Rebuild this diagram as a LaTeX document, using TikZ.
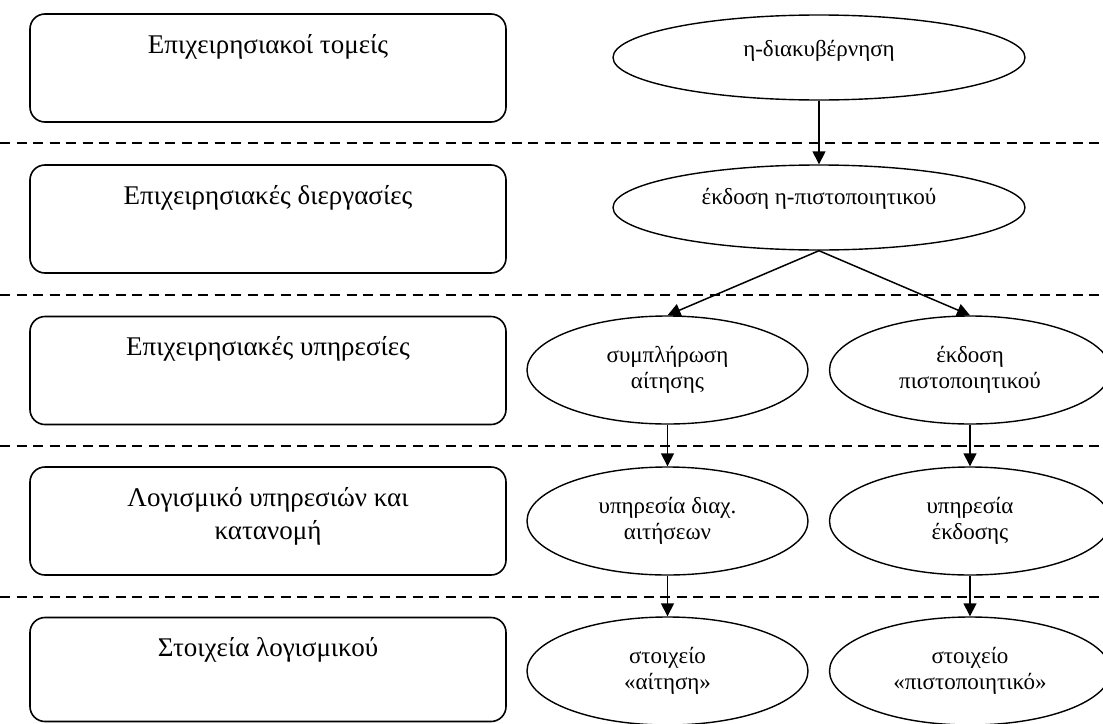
\documentclass[tikz,border=0pt]{standalone}
\usepackage{fontspec}
\setmainfont{Liberation Serif}
\usepackage{tikz}
\usetikzlibrary{arrows.meta,positioning,shapes.geometric}

\begin{document}
\begin{tikzpicture}[x=1pt, y=-1pt,
    layerbox/.style={draw, rounded corners=15pt, line width=1.6pt, minimum width=476pt, minimum height=108pt, inner sep=0pt},
    layertext/.style={font=\fontsize{27}{33}\selectfont, align=center, inner sep=0pt, anchor=north},
    service/.style={draw, ellipse, line width=1.4pt, inner sep=0pt, minimum width=281pt, minimum height=108pt, align=center, font=\fontsize{23}{25.5}\selectfont},
    wideservice/.style={service, minimum width=412pt, minimum height=85pt},
    servicetext/.style={inner sep=0pt, font=\fontsize{23}{25.5}\selectfont},
    layerline/.style={line width=1.3pt, dash pattern=on 10pt off 6.5pt},
    flow/.style={-{Triangle[length=13pt,width=13pt]}, line width=1.5pt}]
    \useasboundingbox (0,0) rectangle (1103,723);

    % Layers
    \node[layerbox] (b1) at (268,68) {};
    \node[layerbox] (b2) at (268,219) {};
    \node[layerbox] (b3) at (268,370.5) {};
    \node[layerbox] (b4) at (268,521) {};
    \node[layerbox, minimum height=104pt] (b5) at (268,669.5) {};
    \node[layertext, below=21pt of b1.north] (t1) {Επιχειρησιακοί τομείς};
    \node[layertext, below=21pt of b2.north] (t2) {Επιχειρησιακές διεργασίες};
    \node[layertext, below=21pt of b3.north] (t3) {Επιχειρησιακές υπηρεσίες};
    \node[layertext, below=21pt of b4.north] (t4) {Λογισμικό υπηρεσιών και\\κατανομή};
    \node[layertext, below=21pt of b5.north] (t5) {Στοιχεία λογισμικού};

    % Separators
    \foreach \y in {143,295,446,597}
        \draw[layerline] (0,\y) -- (1103,\y);

    % Services
    \node[wideservice] (e1) at (819,57.5) {};
    \node[servicetext] (l1) at ([yshift=7pt]e1.center) {η-διακυβέρνηση};
    \node[wideservice] (e2) at (819,207.5) {};
    \node[servicetext] (l2) at ([yshift=9pt]e2.center) {έκδοση η-πιστοποιητικού};
    \node[service] (e3) at (667.5,370) {συμπλήρωση\\αίτησης};
    \node[service] (e4) at (970,370) {έκδοση\\πιστοποιητικού};
    \node[service] (e5) at (667.5,521) {υπηρεσία διαχ.\\αιτήσεων};
    \node[service] (e6) at (970,521) {υπηρεσία\\έκδοσης};
    \node[service] (e7) at (667.5,671) {στοιχείο\\«αίτηση»};
    \node[service] (e8) at (970,671) {στοιχείο\\«πιστοποιητικό»};

    % Arrows
    \draw[flow] (e1) -- (e2);
    \draw[flow] (e2.south) -- (e3.north);
    \draw[flow] (e2.south) -- (e4.north);
    \draw[flow] (e3) -- (e5);
    \draw[flow] (e4) -- (e6);
    \draw[flow] (e5) -- (e7);
    \draw[flow] (e6) -- (e8);
\end{tikzpicture}
\end{document}
